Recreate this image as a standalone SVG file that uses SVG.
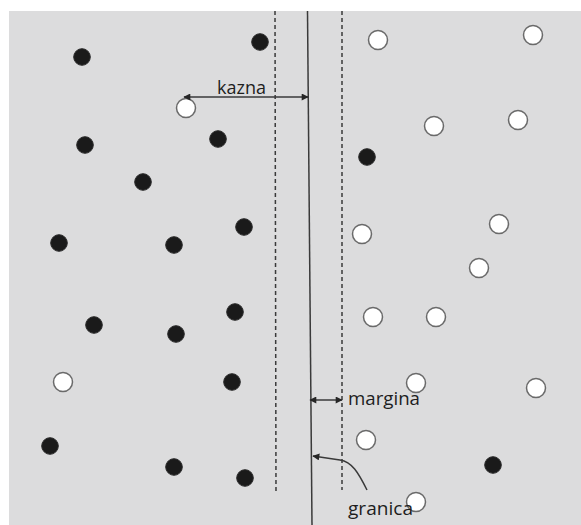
<svg xmlns="http://www.w3.org/2000/svg" width="581" height="525" viewBox="0 0 581 525">
<defs>
<style>
.bg{fill:#dcdcdd}
.b{fill:#1a1a1a;stroke:#2a2a2a;stroke-width:1}
.w{fill:#ffffff;stroke:#6a6a6a;stroke-width:1.5}
.dash{stroke:#3a3a3a;stroke-width:1.5;stroke-dasharray:4 3;fill:none}
.solid{stroke:#3a3a3a;stroke-width:1.5;fill:none}
.arr{stroke:#3a3a3a;stroke-width:1.5;fill:none}
.lbl{font-family:"Open Sans","Liberation Sans",Arial,sans-serif;font-size:18px;fill:#1e1e1e}
</style>
<marker id="ah2" viewBox="0 0 10 10" refX="9" refY="5" markerWidth="8" markerHeight="7" orient="auto-start-reverse" markerUnits="userSpaceOnUse">
<path d="M0,0 L10,5 L0,10 Z" fill="#262626"/>
</marker>
</defs>
<rect class="bg" x="9" y="11" width="572" height="514"/>
<g id="lines">
<line id="margin-left" class="dash" x1="275" y1="11" x2="276" y2="493"/>
<line id="boundary" class="solid" x1="307.5" y1="11" x2="312" y2="525"/>
<line id="margin-right" class="dash" x1="342" y1="11" x2="342" y2="490"/>
</g>
<g id="points-black">
<circle class="b" cx="82" cy="57" r="8.3"/>
<circle class="b" cx="260" cy="42" r="8.3"/>
<circle class="b" cx="85" cy="145" r="8.3"/>
<circle class="b" cx="218" cy="139" r="8.3"/>
<circle class="b" cx="143" cy="182" r="8.3"/>
<circle class="b" cx="59" cy="243" r="8.3"/>
<circle class="b" cx="174" cy="245" r="8.3"/>
<circle class="b" cx="244" cy="227" r="8.3"/>
<circle class="b" cx="94" cy="325" r="8.3"/>
<circle class="b" cx="176" cy="334" r="8.3"/>
<circle class="b" cx="235" cy="312" r="8.3"/>
<circle class="b" cx="232" cy="382" r="8.3"/>
<circle class="b" cx="50" cy="446" r="8.3"/>
<circle class="b" cx="174" cy="467" r="8.3"/>
<circle class="b" cx="245" cy="478" r="8.3"/>
<circle class="b" cx="367" cy="157" r="8.3"/>
<circle class="b" cx="493" cy="465" r="8.3"/>
</g>
<g id="points-white">
<circle class="w" cx="186" cy="108" r="9.5"/>
<circle class="w" cx="63" cy="382" r="9.5"/>
<circle class="w" cx="378" cy="40" r="9.5"/>
<circle class="w" cx="533" cy="35" r="9.5"/>
<circle class="w" cx="434" cy="126" r="9.5"/>
<circle class="w" cx="518" cy="120" r="9.5"/>
<circle class="w" cx="362" cy="234" r="9.5"/>
<circle class="w" cx="499" cy="224" r="9.5"/>
<circle class="w" cx="479" cy="268" r="9.5"/>
<circle class="w" cx="373" cy="317" r="9.5"/>
<circle class="w" cx="436" cy="317" r="9.5"/>
<circle class="w" cx="416" cy="383" r="9.5"/>
<circle class="w" cx="536" cy="388" r="9.5"/>
<circle class="w" cx="366" cy="440" r="9.5"/>
<circle class="w" cx="416" cy="502" r="9.5"/>
</g>
<g id="connectors">
<line id="kazna-arrow" class="arr" x1="184" y1="97" x2="308" y2="97" marker-start="url(#ah2)" marker-end="url(#ah2)"/>
<line id="margina-arrow" class="arr" x1="310" y1="400" x2="342" y2="400" marker-start="url(#ah2)" marker-end="url(#ah2)"/>
<path id="granica-arrow" class="arr" d="M367,490 C358,472 352,462 340,460 L313,456" marker-end="url(#ah2)"/>
</g>
<g id="labels">
<text class="lbl" x="217" y="94" textLength="49" lengthAdjust="spacingAndGlyphs">kazna</text>
<text class="lbl" x="348" y="405" textLength="72" lengthAdjust="spacingAndGlyphs">margina</text>
<text class="lbl" x="348" y="515" textLength="65" lengthAdjust="spacingAndGlyphs">granica</text>
</g>
</svg>
